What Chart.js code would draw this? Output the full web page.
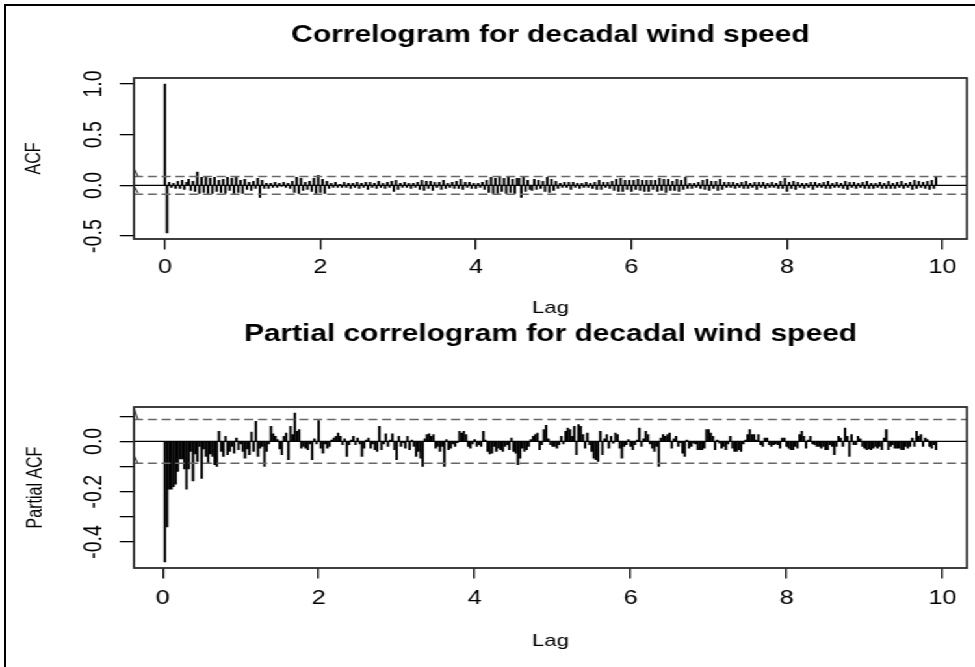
<!DOCTYPE html>
<html><head><meta charset="utf-8">
<script src="https://cdn.jsdelivr.net/npm/chart.js@4.4.1/dist/chart.umd.min.js"></script>
<style>
html,body{margin:0;padding:0;background:#fff;}
body{width:975px;height:667px;position:relative;overflow:hidden;}
#frame{position:absolute;left:4px;top:4px;width:990px;height:690px;border-left:2px solid #000;border-top:2px solid #000;box-sizing:border-box;}
#stage{position:absolute;left:0;top:0;width:750px;height:667px;transform:scaleX(1.3);transform-origin:0 0;}
.box{position:absolute;left:0;width:750px;}
#boxA{top:0;height:330px;}
#boxB{top:300px;height:367px;}
canvas{display:block;}
</style></head><body>
<div id="frame"></div>
<div id="stage">
<div class="box" id="boxA"><canvas id="acf" width="750" height="330"></canvas></div>
<div class="box" id="boxB"><canvas id="pacf" width="750" height="367"></canvas></div>
</div>
<script>
// ---- data ----
const lagFrequency = 36;           // decadal (10-day) observations per year
const xTickValues = [0, 2, 4, 6, 8, 10];
const acfYTicks = [-0.5, 0, 0.5, 1];
const acfYLabelled = [-0.5, 0, 0.5, 1];
const pacfYTicks = [-0.4, -0.3, -0.2, -0.1, 0, 0.1];
const pacfYLabelled = [-0.4, -0.2, 0];
const ciBound = 0.087;

// ACF, lags k = 0..357 (k/36 years)
const acfValues = [1.0,-0.47,
0.03,-0.02,0.02,-0.03,0.04,-0.03,0.05,-0.04,0.03,0.06,-0.05,0.04,
-0.06,0.13,-0.08,0.08,-0.07,0.08,-0.08,0.07,-0.08,0.08,-0.06,0.05,
-0.07,0.06,-0.08,0.08,-0.05,0.07,-0.08,0.08,-0.07,0.05,-0.08,0.06,
-0.04,0.03,-0.05,0.04,-0.03,0.07,-0.12,0.05,-0.03,0.02,-0.03,0.02,
-0.02,0.03,-0.02,0.02,-0.01,0.03,-0.02,0.02,-0.03,0.04,-0.07,0.08,
-0.08,0.07,-0.05,0.03,-0.04,0.04,-0.06,0.07,-0.08,0.1,-0.07,0.06,
-0.08,0.04,-0.03,0.02,-0.02,0.03,-0.02,0.01,-0.02,0.03,-0.02,0.02,
-0.03,0.02,-0.02,0.03,-0.03,0.02,-0.02,0.03,-0.04,0.03,-0.02,0.02,
-0.03,0.04,-0.02,0.02,-0.03,0.03,-0.02,0.04,-0.06,0.05,-0.04,0.02,
-0.02,0.03,-0.02,0.02,-0.03,0.02,-0.02,0.03,-0.04,0.05,-0.05,0.04,
-0.03,0.04,-0.05,0.03,-0.02,0.03,-0.04,0.05,-0.03,0.02,-0.02,0.03,
-0.03,0.04,-0.03,0.06,-0.04,0.03,-0.02,0.03,-0.03,0.02,-0.03,0.02,
-0.02,0.03,-0.04,0.05,-0.07,0.08,-0.08,0.07,-0.08,0.08,-0.06,0.07,
-0.08,0.08,-0.07,0.06,-0.08,0.07,0.07,-0.12,0.08,-0.06,0.05,-0.04,
-0.05,0.06,-0.04,0.05,-0.03,0.04,-0.06,0.08,-0.07,0.06,-0.05,0.04,
-0.03,0.02,-0.02,0.03,-0.02,0.03,-0.04,0.03,-0.02,0.02,-0.03,0.02,
-0.02,0.03,-0.02,0.02,-0.03,0.03,-0.04,0.05,-0.04,0.03,-0.02,0.03,
-0.03,0.04,-0.05,0.06,-0.06,0.07,-0.06,0.05,-0.04,0.05,-0.06,0.05,
-0.04,0.06,-0.05,0.05,-0.06,0.05,-0.06,0.05,-0.04,0.05,-0.06,0.07,
-0.05,0.06,-0.07,0.06,-0.05,0.04,-0.05,0.06,-0.06,0.05,-0.04,0.08,
-0.03,0.02,-0.03,0.02,-0.02,0.03,-0.03,0.05,-0.04,0.06,-0.05,0.04,
-0.03,0.04,-0.05,0.06,-0.04,0.03,-0.02,0.03,-0.02,0.03,-0.03,0.02,
-0.02,0.03,-0.03,0.04,-0.03,0.02,-0.02,0.03,-0.04,0.03,-0.02,0.03,
-0.03,0.02,-0.02,0.03,-0.02,0.02,-0.03,0.04,-0.03,0.07,-0.06,0.03,
-0.03,0.04,-0.04,0.03,-0.02,0.02,-0.03,0.02,-0.02,0.03,-0.04,0.03,
-0.02,0.02,-0.02,0.03,-0.03,0.04,-0.03,0.02,-0.02,0.03,-0.02,0.02,
-0.03,0.04,-0.04,0.03,-0.02,0.03,-0.03,0.02,-0.02,0.03,-0.03,0.04,
-0.03,0.02,-0.03,0.02,-0.02,0.03,-0.03,0.02,-0.03,0.04,-0.03,0.02,
-0.03,0.03,-0.02,0.04,-0.03,0.02,-0.02,0.03,-0.04,0.05,-0.03,0.04,
-0.02,0.03,-0.03,0.04,-0.04,0.05,-0.03,0.08];

// PACF, lags k = 1..357
const pacfValues = [
-0.48,-0.34,-0.19,-0.19,-0.18,-0.17,-0.12,-0.07,-0.07,-0.11,-0.19,-0.11,
-0.04,-0.157,-0.05,-0.08,-0.02,-0.147,-0.03,-0.06,-0.087,-0.05,-0.06,-0.093,
-0.1,0.04,-0.04,-0.06,0.02,-0.053,-0.04,-0.02,-0.047,0.013,-0.033,-0.01,
-0.04,-0.067,-0.03,-0.053,0.037,-0.04,0.08,-0.06,-0.027,-0.02,-0.1,-0.04,
-0.01,0.06,0.03,0.02,0.007,-0.03,-0.053,0.02,0.033,-0.073,0.06,0.027,
0.113,0.04,0.047,-0.027,-0.02,-0.027,-0.033,-0.01,-0.073,0.01,-0.01,0.083,
-0.027,-0.047,-0.01,-0.027,-0.02,0.005,0.013,0.02,0.033,0.02,-0.013,0.01,
-0.06,-0.013,0.005,0.02,-0.013,0.013,-0.01,-0.06,-0.027,0.005,0.013,-0.027,
-0.01,-0.033,-0.04,0.06,-0.033,-0.01,0.03,-0.02,0.005,0.03,-0.033,-0.073,
0.02,-0.02,-0.005,-0.027,0.02,-0.033,0.005,-0.02,-0.06,-0.04,-0.067,-0.1,
0.01,0.027,0.03,0.02,0.027,-0.027,-0.02,-0.04,-0.02,-0.1,0.007,-0.033,
-0.027,-0.01,-0.02,-0.005,0.04,0.033,0.04,0.027,-0.02,-0.027,-0.01,0.007,
-0.02,-0.013,-0.02,0.04,0.005,-0.04,-0.05,-0.047,-0.02,-0.04,-0.027,-0.033,
-0.04,-0.02,-0.013,-0.033,0.013,-0.04,-0.047,-0.093,-0.067,-0.027,-0.04,-0.033,
-0.02,0.007,0.02,0.027,0.033,-0.033,-0.013,0.047,0.064,0.01,-0.013,-0.02,
-0.02,-0.027,-0.013,0.02,-0.01,0.04,0.053,0.047,0.02,0.06,-0.053,0.067,
0.06,0.027,-0.027,0.033,-0.013,-0.04,-0.067,-0.073,-0.08,0.04,-0.053,0.01,
0.027,-0.027,0.02,-0.007,0.033,0.027,-0.027,-0.067,-0.02,-0.013,0.007,-0.02,
-0.033,-0.013,0.005,0.053,-0.02,0.01,0.04,0.027,-0.01,-0.027,-0.04,-0.02,
-0.1,0.013,0.027,0.02,0.027,0.033,-0.027,0.01,0.02,-0.02,-0.005,-0.047,
-0.06,0.005,-0.027,-0.02,-0.007,-0.01,-0.033,-0.033,-0.033,-0.027,0.047,0.047,
0.033,0.02,-0.033,0.005,-0.007,-0.027,-0.02,-0.033,-0.01,0.02,-0.027,-0.04,
-0.04,-0.033,-0.04,-0.01,0.005,0.027,0.047,0.027,0.027,0.005,0.027,-0.013,
-0.02,0.013,0.013,-0.013,-0.02,-0.013,-0.01,-0.013,-0.027,0.013,0.013,-0.02,
-0.027,-0.033,-0.033,-0.02,-0.027,0.027,0.04,0.02,-0.027,0.005,0.02,-0.01,
-0.013,-0.02,-0.02,-0.027,-0.02,-0.033,-0.033,-0.013,-0.02,-0.053,-0.02,0.02,
0.013,-0.02,0.053,0.02,-0.06,0.027,-0.013,-0.013,0.02,0.01,-0.02,-0.027,
-0.033,-0.03,-0.033,-0.027,-0.02,-0.027,-0.02,-0.033,0.013,0.047,-0.033,-0.02,
-0.013,-0.027,-0.027,-0.027,-0.033,-0.033,-0.02,-0.027,-0.02,0.013,-0.02,0.04,
0.02,0.027,-0.02,0.013,0.007,-0.02,-0.027,-0.013,-0.033];

const acfLags = acfValues.map((_, k) => k / lagFrequency);
const pacfLags = pacfValues.map((_, k) => (k + 1) / lagFrequency);

// short slanted strokes at the left edge of each panel
const acfStubX = [-0.40, -0.345];
const acfStubUpper = [0.175, 0.087];
const acfStubLower = [0.0, -0.075];
const pacfStubX = [-0.37, -0.32];
const pacfStubUpper = [0.137, 0.088];
const pacfStubLower = [-0.053, -0.087];

// ---- drawing ----
const FAMILY = "'Liberation Sans', Arial, Helvetica, sans-serif";
const TICK_FS = 19.5;
const XLAB_FS = 17;
const YLAB_FS = 16;

function rRange(vals) {
  const lo = Math.min(...vals), hi = Math.max(...vals), d = (hi - lo) * 0.04;
  return [lo - d, hi + d];
}

const boxPlugin = {
  id: 'rbox',
  afterDatasetsDraw(chart) {
    const {ctx, chartArea: a} = chart;
    ctx.save();
    ctx.strokeStyle = '#2a2a2a';
    ctx.lineWidth = 1.8;
    ctx.strokeRect(a.left, a.top, a.right - a.left, a.bottom - a.top);
    ctx.restore();
  }
};

function lineDs(xs, ys, color, width, dash, order) {
  return {type: 'line', data: xs.map((x, i) => ({x, y: ys[i]})), borderColor: color,
    borderWidth: width, borderDash: dash, pointRadius: 0, fill: false, order, tension: 0};
}

function makeChart(id, lags, vals, yTicks, yLabelled, yTitle, titleText, stubX, stubU, stubL, g) {
  const [xmin, xmax] = rRange(lags);
  const [ymin, ymax] = rRange(vals.concat([ciBound, -ciBound]));
  return new Chart(document.getElementById(id), {
    type: 'bar',
    data: {datasets: [
      lineDs([xmin, xmax], [ciBound, ciBound], '#666', 1.5, [7, 3.6], 1),
      lineDs([xmin, xmax], [-ciBound, -ciBound], '#666', 1.5, [7, 3.6], 1),
      lineDs(stubX, stubU, '#444', 1.1, [], 1),
      lineDs(stubX, stubL, '#444', 1.1, [], 1),
      lineDs([xmin, xmax], [0, 0], '#000', 1.3, [], 2),
      {type: 'bar', data: lags.map((x, i) => ({x, y: vals[i]})), backgroundColor: '#000',
       borderWidth: 0, barThickness: 1.25, grouped: false, order: 3}
    ]},
    options: {
      responsive: false, animation: false, events: [],
      layout: {padding: {left: 0, right: 6.2, top: 0, bottom: 0}},
      plugins: {
        legend: {display: false}, tooltip: {enabled: false},
        title: {display: true, text: titleText, fullSize: false, color: '#000',
          font: {family: FAMILY, size: 23, weight: 'bold'},
          padding: {top: g.titleTop, bottom: g.titleBottom}}
      },
      scales: {
        x: {
          type: 'linear', min: xmin, max: xmax, offset: false, bounds: 'data',
          afterBuildTicks: s => { s.ticks = xTickValues.map(v => ({value: v})); },
          afterFit: s => { s.height = g.xAxisH; },
          grid: {drawOnChartArea: false, drawTicks: true, tickLength: 10.5, color: '#000', lineWidth: 1.3, offset: false},
          border: {display: false},
          ticks: {font: {family: FAMILY, size: TICK_FS}, color: '#000', padding: g.xTickPad, maxRotation: 0, autoSkip: false,
            callback: v => String(v)},
          title: {display: true, text: 'Lag', color: '#000', font: {family: FAMILY, size: XLAB_FS},
            padding: {top: 0, bottom: g.lagPad}}
        },
        y: {
          type: 'linear', min: ymin, max: ymax, bounds: 'data',
          afterBuildTicks: s => { s.ticks = yTicks.map(v => ({value: v})); },
          afterFit: s => { s.width = 103.1; },
          grid: {drawOnChartArea: false, drawTicks: true, tickLength: 11, color: '#000', lineWidth: 1.3},
          border: {display: false},
          ticks: {font: {family: FAMILY, size: TICK_FS}, color: '#000', padding: 2.2, minRotation: 90, maxRotation: 90,
            crossAlign: 'center', autoSkip: false,
            callback: v => yLabelled.some(t => Math.abs(t - v) < 1e-9) ? v.toFixed(1) : ''},
          title: {display: true, text: yTitle, color: '#000', font: {family: FAMILY, size: YLAB_FS},
            padding: {top: g.yTitlePad, bottom: 0}}
        }
      }
    },
    plugins: [boxPlugin]
  });
}

makeChart('acf', acfLags, acfValues, acfYTicks, acfYLabelled, 'ACF',
  'Correlogram for decadal wind speed', acfStubX, acfStubUpper, acfStubLower,
  {titleTop: 21.7, titleBottom: 28.7, xAxisH: 91, xTickPad: 6.6, lagPad: 11.1, yTitlePad: 17.3});
makeChart('pacf', pacfLags, pacfValues, pacfYTicks, pacfYLabelled, 'Partial ACF',
  'Partial correlogram for decadal wind speed', pacfStubX, pacfStubUpper, pacfStubLower,
  {titleTop: 20.7, titleBottom: 58.7, xAxisH: 99, xTickPad: 8.6, lagPad: 15.8, yTitlePad: 18.1});
</script></body></html>
